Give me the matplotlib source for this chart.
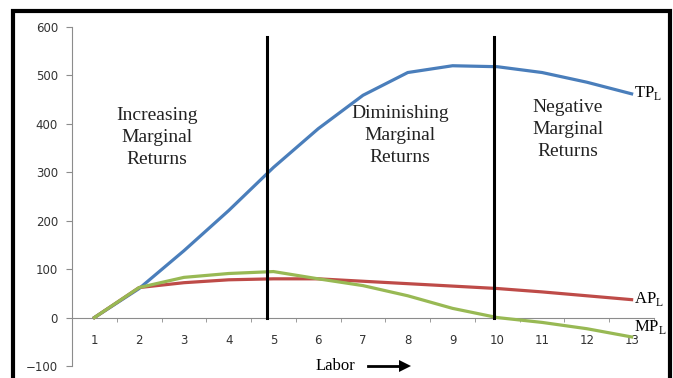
import numpy as np
import matplotlib.pyplot as plt
from matplotlib.patches import Rectangle

# labour units and product schedules
labor = [1, 2, 3, 4, 5, 6, 7, 8, 9, 10, 11, 12, 13]
tp = [0, 60, 138, 221, 310, 390, 459, 506, 520, 518, 506, 486, 462]
ap = [0, 62, 72, 78, 80, 80, 75, 70, 65, 60, 53, 45, 37]
mp = [0, 62, 83, 91, 95, 80, 66, 45, 19, 0, -10, -23, -40]

stage_bounds = [4.86, 9.93]
stage_top = 580
stage_labels = ["Increasing\nMarginal\nReturns",
                "Diminishing\nMarginal\nReturns",
                "Negative\nMarginal\nReturns"]
stage_pos = [(2.4, 372), (7.82, 376), (11.58, 388)]

yticks = [-100, 0, 100, 200, 300, 400, 500, 600]

plt.rcParams["mathtext.fontset"] = "custom"
plt.rcParams["mathtext.rm"] = "Liberation Serif"
serif = "Liberation Serif"

fig = plt.figure(figsize=(6.73, 3.78), dpi=100)
ax = fig.add_axes([72 / 673, 12 / 378, 582 / 673, 339 / 378])

blue = "#4a7ebb"
red = "#be4b48"
green = "#98b954"

ax.plot(labor, tp, color=blue, lw=2.3, solid_joinstyle="round", zorder=3)
ax.plot(labor, ap, color=red, lw=2.3, solid_joinstyle="round", zorder=3)
ax.plot(labor, mp, color=green, lw=2.3, solid_joinstyle="round", zorder=4)

for xb in stage_bounds:
    ax.plot([xb, xb], [0, stage_top], color="black", lw=2.2, zorder=5)

for txt, (x, y) in zip(stage_labels, stage_pos):
    ax.text(x, y, txt, ha="center", va="center", family=serif,
            fontsize=14, linespacing=1.4, color="#222222")

lab_kw = dict(family=serif, fontsize=12, va="center", ha="left")
ax.text(13.05, tp[-1] + 2, r"TP$_{\mathrm{L}}$", **lab_kw)
ax.text(13.05, ap[-1] + 2, r"AP$_{\mathrm{L}}$", **lab_kw)
ax.text(13.05, -20, r"MP$_{\mathrm{L}}$", **lab_kw)

ax.set_xlim(0.5, 13.5)
ax.set_ylim(-100, 600)
ax.set_yticks(yticks)
ax.set_xticks(labor)
ax.set_xticks(np.arange(1.5, 13.6, 1), minor=True)

for s in ["top", "right"]:
    ax.spines[s].set_visible(False)
ax.spines["bottom"].set_position(("data", 0))
ax.spines["bottom"].set_color("#8c8c8c")
ax.spines["left"].set_color("#8c8c8c")
ax.tick_params(axis="x", which="major", length=0, pad=12, labelsize=8.5,
               labelcolor="#333333")
ax.tick_params(axis="x", which="minor", length=3, color="#8c8c8c")
ax.tick_params(axis="y", length=4, pad=6, labelsize=8.5, color="#8c8c8c",
               labelcolor="#333333")

fig.text(316 / 673, 1 - 366 / 378, "Labor", family=serif, fontsize=12,
         va="center", ha="left")
fig.add_artist(plt.Line2D([368 / 673, 400 / 673], [1 - 366 / 378] * 2,
                          color="black", lw=2))
fig.add_artist(plt.Line2D([405 / 673], [1 - 366 / 378], marker=">",
                          markersize=8, color="black", markeredgewidth=0))

# frame around the chart
fig.add_artist(Rectangle((13 / 673, -0.05), 657 / 673, 0.05 + 1 - 11 / 378,
                         transform=fig.transFigure, fill=False,
                         edgecolor="black", lw=3))

fig.savefig("out.png", dpi=100)
